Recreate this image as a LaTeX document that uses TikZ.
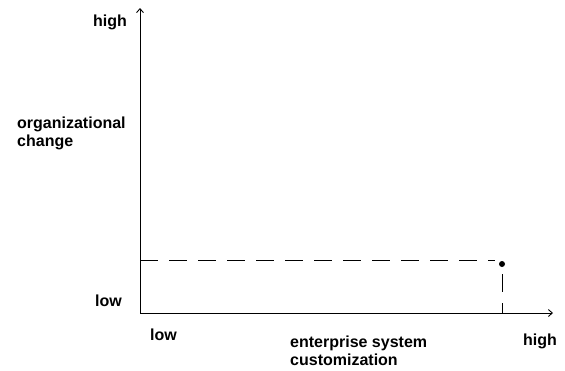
\documentclass[tikz,border=0pt]{standalone}
\usepackage{fontspec}
\setmainfont{Liberation Sans}
\usepackage{tikz}
\usetikzlibrary{arrows.meta}

\begin{document}
\begin{tikzpicture}[>={Straight Barb[length=4pt,width=7pt]},x=1pt,y=-1pt,
        axis/.style={line width=.9pt,black},
        guide/.style={line width=.9pt,dash pattern=on 18pt off 11pt},
        lbl/.style={inner sep=0pt,font=\fontsize{16}{18}\selectfont\bfseries,align=left},
        dot/.style={circle,fill=black,inner sep=0pt,minimum size=6pt}]
        \useasboundingbox (0,0) rectangle (565,370);
        \coordinate (O) at (140,313);
        \coordinate (ytip) at (140,8);
        \coordinate (xtip) at (553,313);
        \coordinate (lvl) at (140,260);
        \draw[axis,->](O)--(ytip);
        \draw[axis,->](O)--(xtip);
        \node[dot] (pt) at (502,264){};
        \draw[guide](lvl)--(lvl -| 495,0);
        \draw[guide,dash phase=22pt](pt)--(pt |- O);
        \node[lbl,anchor=base east] (yhigh) at (127,26){high};
        \node[lbl,anchor=base west] (ylow) at (95,306){low};
        \node[lbl,anchor=north west] (ytext) at (17,116.5){organizational\\change};
        \node[lbl,anchor=base west] (xlow) at (150,340){low};
        \node[lbl,anchor=base west] (xhigh) at (523,345){high};
        \node[lbl,anchor=north west] (xtext) at (290,336){enterprise system\\customization};
    \end{tikzpicture}
\end{document}
